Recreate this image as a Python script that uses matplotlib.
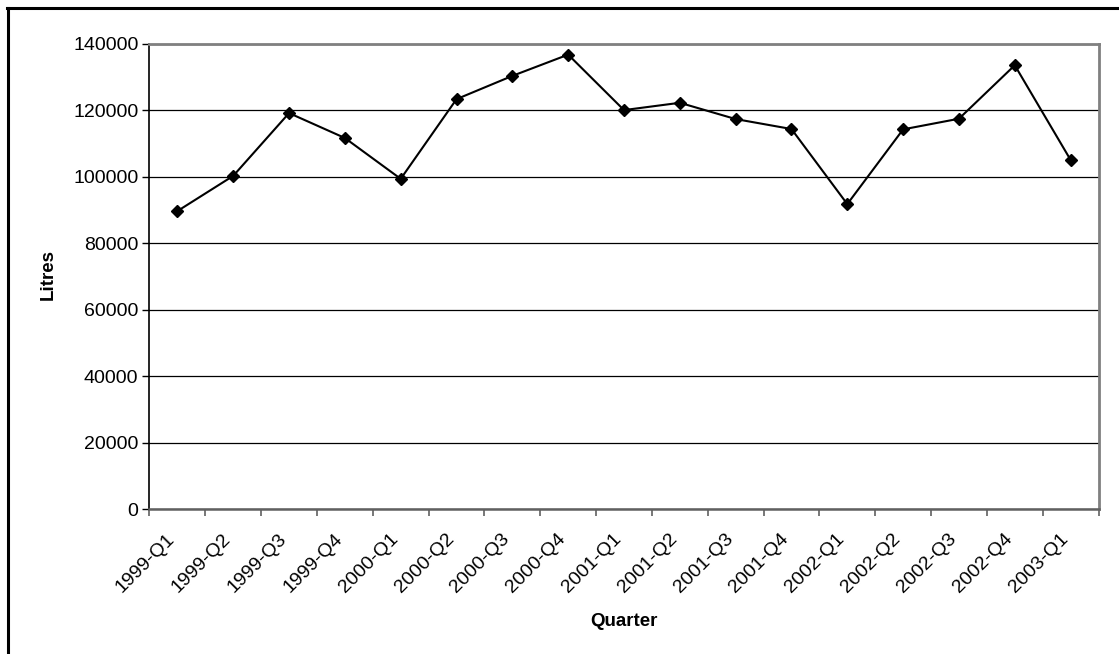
import matplotlib
matplotlib.use("Agg")
import matplotlib.pyplot as plt
from matplotlib.lines import Line2D
import numpy as np

plt.rcParams['font.family'] = ['Liberation Sans', 'DejaVu Sans']

quarters = ["1999-Q1", "1999-Q2", "1999-Q3", "1999-Q4",
            "2000-Q1", "2000-Q2", "2000-Q3", "2000-Q4",
            "2001-Q1", "2001-Q2", "2001-Q3", "2001-Q4",
            "2002-Q1", "2002-Q2", "2002-Q3", "2002-Q4",
            "2003-Q1"]
litres = [89700, 100300, 119200, 111700,
          99400, 123400, 130400, 136800,
          120100, 122300, 117400, 114400,
          91800, 114300, 117500, 133600,
          105100]
y_ticks = [0, 20000, 40000, 60000, 80000, 100000, 120000, 140000]

W, H = 1119, 654
fig = plt.figure(figsize=(W / 100, H / 100), dpi=100)
fig.patch.set_facecolor("white")

# plot area in pixel coordinates
left, right, top, bottom = 149.5, 1098.5, 44, 509
ax = fig.add_axes([left / W, (H - bottom) / H, (right - left) / W, (bottom - top) / H])

n = len(quarters)
x = np.arange(n) + 0.5
ax.plot(x, litres, color="black", lw=1.5, marker="D", markersize=6,
        markerfacecolor="black", markeredgecolor="black", zorder=3)

ax.set_xlim(0, n)
ax.set_ylim(0, 140000)
ax.set_yticks(y_ticks)
ax.set_yticklabels([str(v) for v in y_ticks], fontsize=14)
ax.yaxis.grid(True, color="black", lw=0.9)
ax.set_axisbelow(True)

# category boundaries carry the ticks, labels sit at category centres
ax.set_xticks(np.arange(n + 1))
ax.set_xticklabels([])
ax.tick_params(axis="x", direction="out", length=5, width=1.2, color="#606060")
ax.tick_params(axis="y", direction="out", length=5, width=1.0, color="black", pad=3)
for xi, lab in zip(x, quarters):
    ax.text(xi - 0.2, -6500, lab, rotation=45, rotation_mode="anchor",
            ha="right", va="top", fontsize=14, transform=ax.transData)

for side in ("top", "right"):
    ax.spines[side].set_color("#808080")
    ax.spines[side].set_linewidth(2)
ax.spines["left"].set_color("black")
ax.spines["left"].set_linewidth(1.2)
ax.spines["bottom"].set_color("#606060")
ax.spines["bottom"].set_linewidth(1.8)

fig.text(48 / W, 1 - 275 / H, "Litres", rotation=90, fontsize=13.5,
         fontweight="bold", ha="center", va="center")
fig.text(624 / W, 1 - 621 / H, "Quarter", fontsize=13.5,
         fontweight="bold", ha="center", va="center")

# outer frame (top and left edges)
fig.add_artist(Line2D([7 / W, 1.0], [1 - 8 / H, 1 - 8 / H], color="black", lw=2.2,
                      transform=fig.transFigure))
fig.add_artist(Line2D([7.5 / W, 7.5 / W], [0, 1 - 8 / H], color="black", lw=2.2,
                      transform=fig.transFigure))

fig.savefig("out.png", dpi=100, facecolor="white")
